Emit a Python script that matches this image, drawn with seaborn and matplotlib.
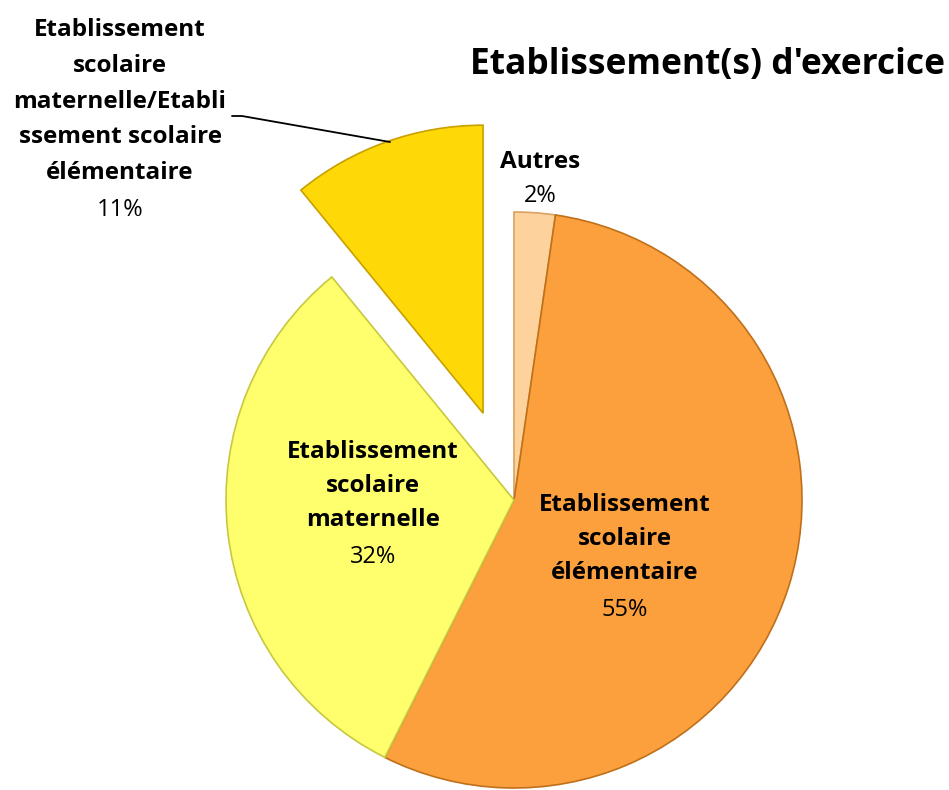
import matplotlib
matplotlib.use("Agg")
import matplotlib.pyplot as plt
import matplotlib.transforms as mtransforms
import seaborn as sns

# data (clockwise from the top)
categories = [
    "Autres",
    "Etablissement\nscolaire\nélémentaire",
    "Etablissement\nscolaire\nmaternelle",
    "Etablissement\nscolaire\nmaternelle/Etabli\nssement scolaire\nélémentaire",
]
values = [2.3, 55.1, 31.7, 10.9]
colors = ["#FDD29C", "#FBA03C", "#FFFF6E", "#FFD808"]
edges = ["#D9A260", "#C0701A", "#C8C840", "#C8A000"]
explode = [0, 0, 0, 0.32]

sns.set_theme(style="white")
plt.rcParams["font.family"] = ["Open Sans", "DejaVu Sans"]

W, H = 949, 790
fig = plt.figure(figsize=(W / 100, H / 100), dpi=100)
ax = fig.add_axes([0, 0, 1, 1])

wedges, _ = ax.pie(values, startangle=90, counterclock=False, colors=colors,
                   explode=explode, wedgeprops=dict(linewidth=1.2))
for w, ec in zip(wedges, edges):
    w.set_edgecolor(ec)

# pie centre at (514, 500) px, radius ~288 px
cx, cy, r = 514, 500, 288
ax.set_aspect("auto")
ax.set_xlim(-cx / r, (W - cx) / r)
ax.set_ylim(-(H - cy) / r, cy / r)
ax.axis("off")


def px(x, y):
    return x / W, 1 - y / H


total = sum(values)
# label anchors: x, y of first bold line, y of percent line (pixels)
anchors = [(540, 162, 196), (625, 505, 610), (373, 452, 557), (120, 30, 210)]
for cat, v, (x, y0, yp) in zip(categories, values, anchors):
    lines = cat.split("\n")
    n = len(lines)
    step = (yp - y0 - 37) / (n - 1) if n > 1 else 0
    for i, line in enumerate(lines):
        fig.text(*px(x, y0 + i * step), line, ha="center", va="center",
                 fontsize=17.5, fontweight="bold", color="black")
    fig.text(*px(x, yp), f"{round(100 * v / total)}%", ha="center",
             va="center", fontsize=17, color="black")

# leader line for the exploded slice (pixel coordinates, y from top)
to_px = mtransforms.Affine2D().scale(1, -1).translate(0, H)
ax.plot([232, 242, 390], [116, 116, 142], color="black", lw=1.3,
        transform=to_px, clip_on=False)

fig.text(*px(945, 65), "Etablissement(s) d'exercice", ha="right", va="center",
         fontsize=25.5, fontweight="bold", color="black")

fig.savefig("out.png", dpi=100, facecolor="white")
